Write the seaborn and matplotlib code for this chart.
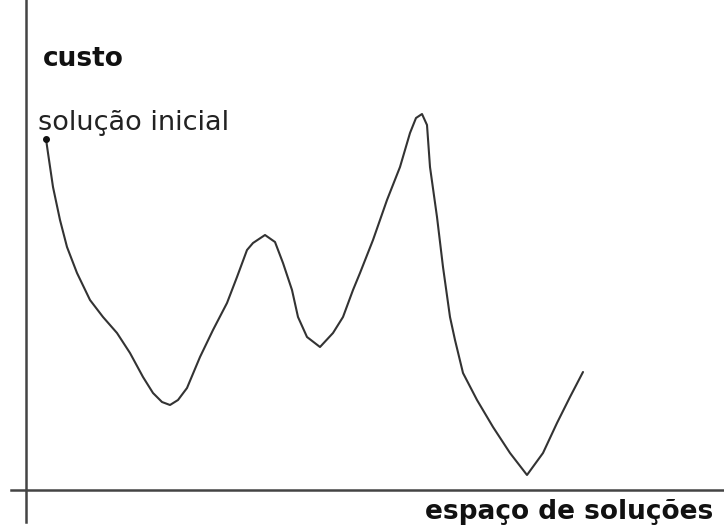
import matplotlib
matplotlib.use("Agg")
import matplotlib.pyplot as plt
import seaborn as sns
import pandas as pd

# curve: position in solution space, cost above the axis
espaco = [20, 22, 27, 34, 41, 51, 64, 77, 91, 104, 117, 127, 136, 144, 152, 161,
          174, 187, 201, 211, 221, 227, 239, 249, 257, 266, 272, 281, 294, 307,
          317, 327, 334, 347, 361, 374, 384, 390, 396, 401, 404, 411, 417, 424,
          429, 437, 451, 467, 484, 501, 517, 531, 544, 557]
custo = [351, 337, 303, 270, 243, 217, 190, 173, 157, 137, 113, 97, 88, 85, 90, 102,
         133, 160, 187, 213, 240, 247, 255, 248, 227, 200, 173, 153, 143, 157,
         173, 200, 217, 250, 290, 323, 357, 372, 376, 365, 323, 273, 223, 173,
         150, 117, 90, 63, 37, 15, 37, 67, 93, 118]

y_label = "custo"
x_label = "espaço de soluções"
start_label = "solução inicial"

df = pd.DataFrame({"espaco": espaco, "custo": custo})

sns.set_theme(style="white")
plt.rcParams["font.family"] = ["DejaVu Sans"]

fig = plt.figure(figsize=(7.24, 5.29), dpi=100)
ax = fig.add_axes([0, 0, 1, 1])
ax.set_xlim(-26, 698)
ax.set_ylim(-39, 490)

sns.lineplot(data=df, x="espaco", y="custo", sort=False, ax=ax,
             color="#333333", linewidth=1.5)
ax.plot(espaco[0], custo[0], "o", color="#111111", markersize=4)

# axes drawn as crossing spines
for side in ["top", "right"]:
    ax.spines[side].set_visible(False)
ax.spines["left"].set_position(("data", 0))
ax.spines["bottom"].set_position(("data", 0))
ax.spines["left"].set_bounds(-32, 490)
ax.spines["bottom"].set_bounds(-15, 698)
for side in ["left", "bottom"]:
    ax.spines[side].set_color("#444444")
    ax.spines[side].set_linewidth(1.8)
ax.set_xticks([])
ax.set_yticks([])
ax.set_xlabel("")
ax.set_ylabel("")

ax.text(17, 424, y_label, fontsize=19, fontweight="bold", color="#111111",
        va="baseline", ha="left")
ax.text(12, 360, start_label, fontsize=19.5, color="#222222",
        va="baseline", ha="left")
ax.text(399, -29, x_label, fontsize=19, fontweight="bold", color="#111111",
        va="baseline", ha="left")

plt.savefig("out.png", dpi=100)
plt.close()
